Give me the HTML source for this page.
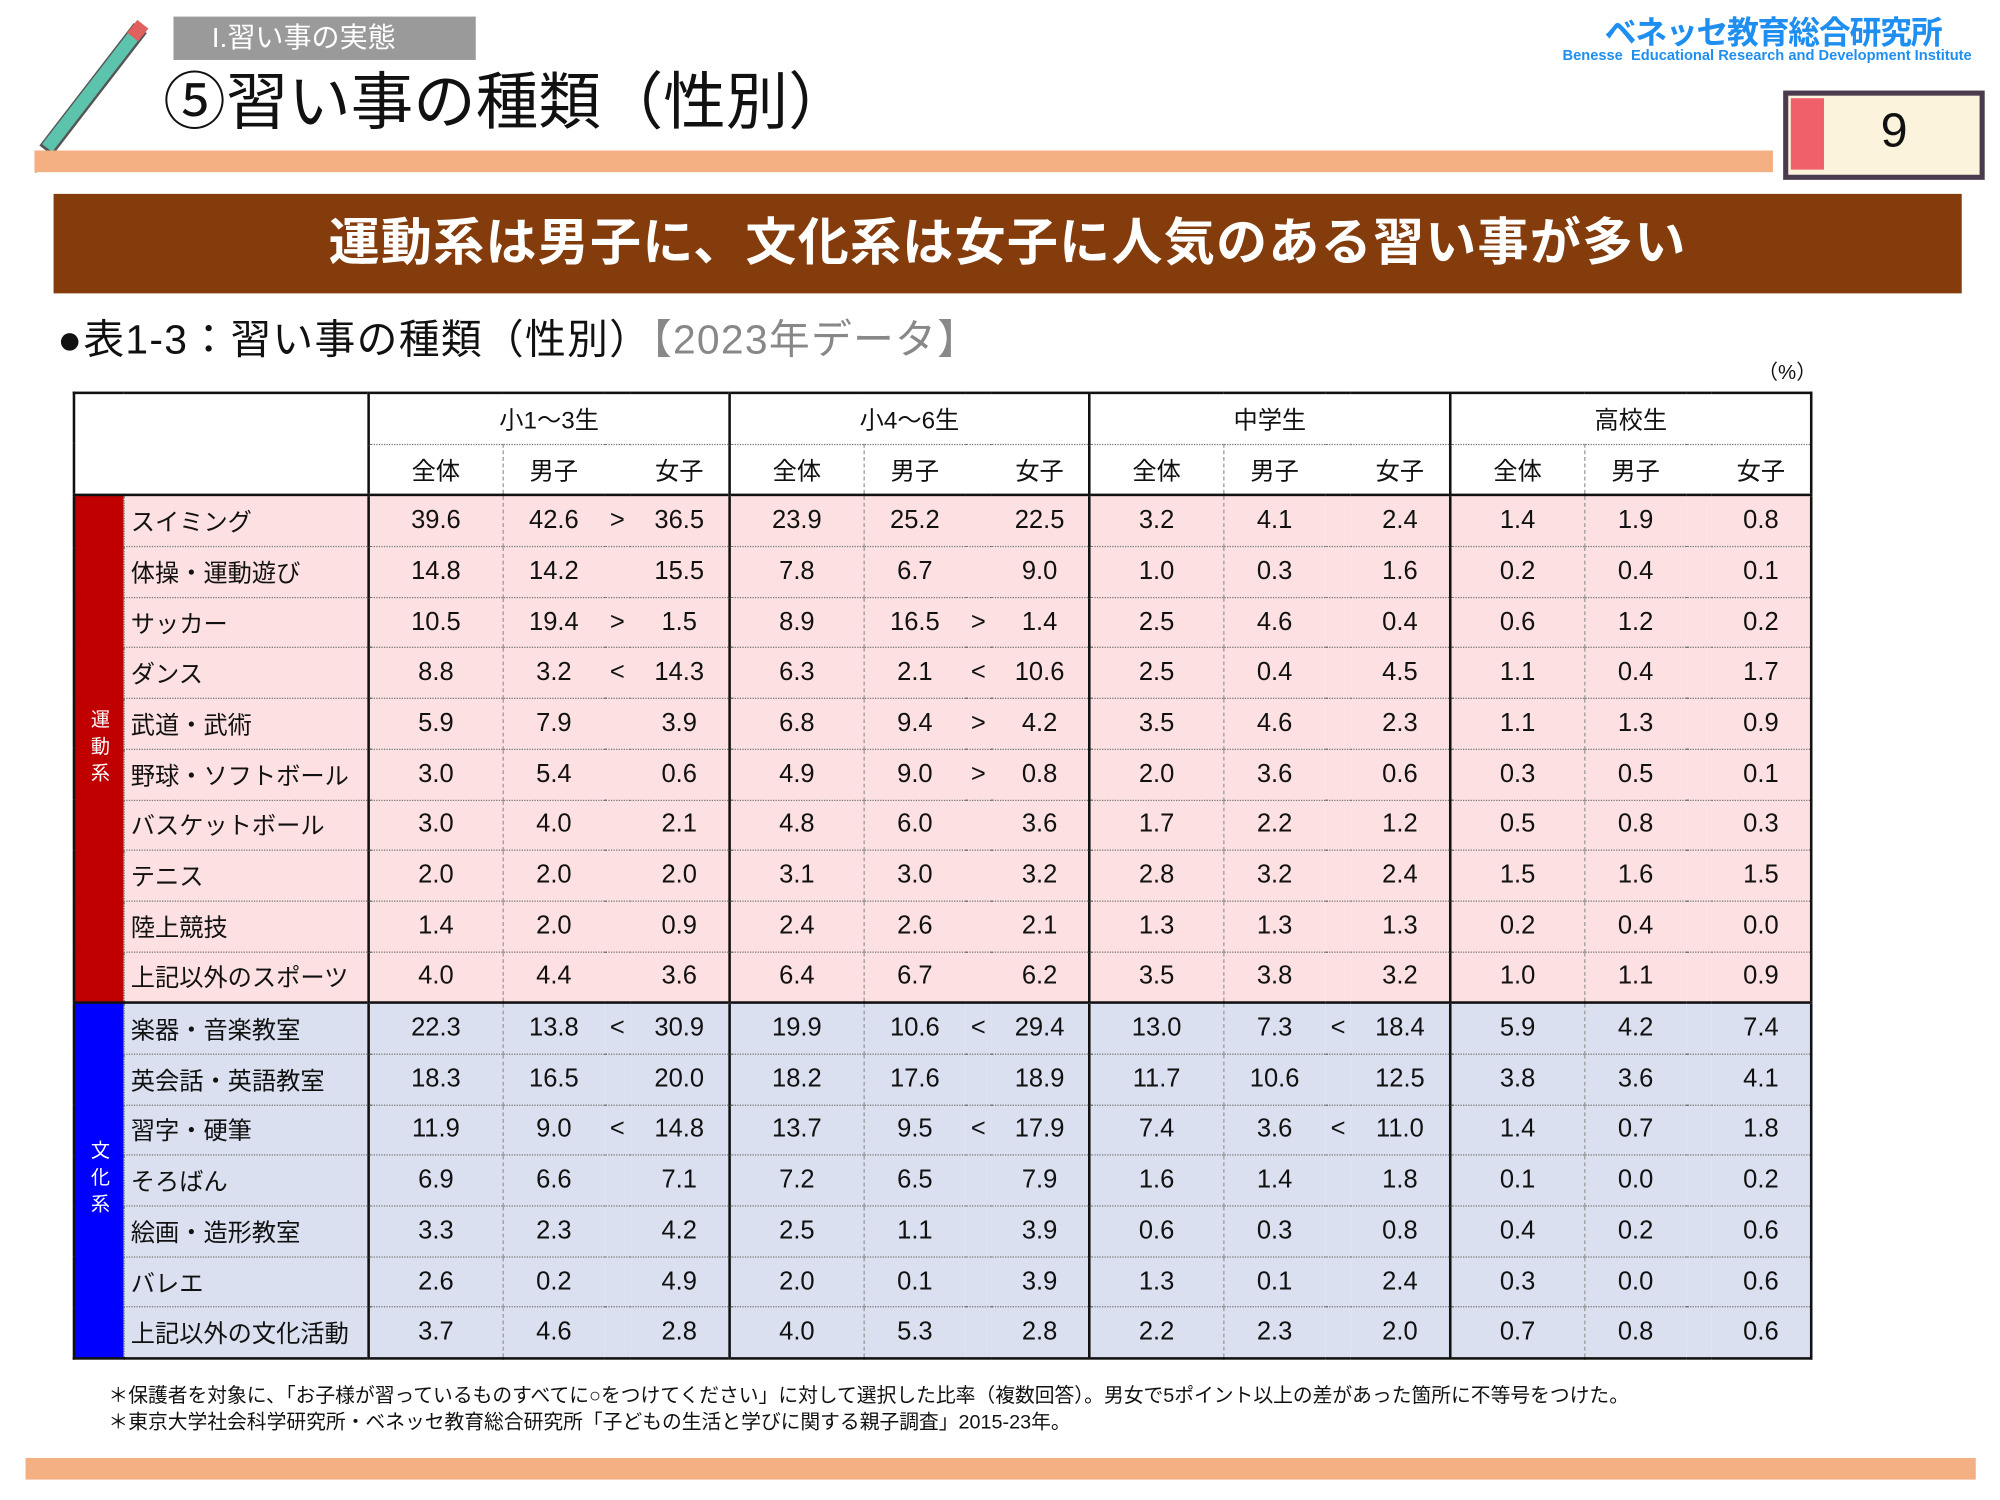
<!DOCTYPE html>
<html><head><meta charset="utf-8">
<style>
html,body{margin:0;padding:0;background:#fff;}
body{width:2000px;height:1500px;overflow:hidden;}
#w{position:absolute;left:0;top:0;width:1568px;height:1176px;transform:scale(1.27551);transform-origin:0 0;font-family:"Liberation Sans","Noto Sans CJK JP",sans-serif;color:#111;}
.a{position:absolute;}
table{position:absolute;left:57px;top:307px;border-collapse:collapse;table-layout:fixed;width:1362px;}
td{height:38.7px;padding:0;text-align:center;font-size:20px;border-bottom:1px dotted #777;white-space:nowrap;}
td.g{border-left:2px solid #111;}
td.m{border-left:1px dashed #999;}
td.l{text-align:left;padding-left:5px;border-left:1px dotted #888;font-size:19px;}
tr.s td{background:#fde0e1;}
tr.c td{background:#dae0ef;}
tr.h td{background:#fff;font-size:19px;}
td.st{color:#fff;font-size:15px;writing-mode:vertical-rl;letter-spacing:6px;border-bottom:none;}
</style></head><body><div id="w">
<svg class="a" style="left:0;top:0" width="140" height="140">
<line x1="36" y1="118" x2="110" y2="22" stroke="#555" stroke-width="13" stroke-linecap="butt"/>
<line x1="37" y1="116" x2="108" y2="24" stroke="#5cc3ad" stroke-width="10"/>
<line x1="104" y1="29" x2="112" y2="19" stroke="#e06060" stroke-width="11"/>
<polygon points="30,120 41,128 29,134" fill="#f3d35a" stroke="#555" stroke-width="2"/>
</svg>
<div class="a" style="left:136px;top:13px;width:237px;height:34px;background:#9a9a9a;color:#fff;font-size:22px;line-height:34px;padding-left:30px;box-sizing:border-box;">I.習い事の実態</div>
<div class="a" style="left:128px;top:50px;font-size:49px;line-height:62px;">⑤習い事の種類（性別）</div>
<div class="a" style="left:27px;top:118px;width:1363px;height:17px;background:#f4b083;"></div>
<div class="a" style="left:1258px;top:6px;font-size:25px;color:#1e8ff0;font-weight:bold;letter-spacing:-1px;">ベネッセ教育総合研究所</div>
<div class="a" style="left:1225px;top:38px;font-size:11.5px;color:#1e8ff0;font-weight:bold;white-space:nowrap;">Benesse&nbsp; Educational Research and Development Institute</div>
<div class="a" style="left:1398px;top:71px;width:150px;height:62px;border:4px solid #4a3c4e;background:#fbf3dc;"></div>
<div class="a" style="left:1404px;top:77px;width:26px;height:56px;background:#f0606a;"></div>
<div class="a" style="left:1460px;top:78px;width:50px;text-align:center;font-size:38px;line-height:50px;">9</div>
<div class="a" style="left:42px;top:152px;width:1496px;height:78px;background:#843c0c;color:#fff;font-size:40px;font-weight:bold;text-align:center;line-height:78px;letter-spacing:1px;">運動系は男子に、文化系は女子に人気のある習い事が多い</div>
<div class="a" style="left:45px;top:245px;font-size:32px;line-height:42px;letter-spacing:1px;">●表1-3：習い事の種類（性別）<span style="color:#888">【2023年データ】</span></div>
<div class="a" style="left:1378px;top:278px;font-size:16px;">（%）</div>
<table style="border:2px solid #111;">
<colgroup><col style="width:39px"><col style="width:192px">
<col style="width:105px"><col style="width:80px"><col style="width:20px"><col style="width:78px">
<col style="width:105px"><col style="width:80px"><col style="width:20px"><col style="width:77px">
<col style="width:105px"><col style="width:80px"><col style="width:20px"><col style="width:78px">
<col style="width:105px"><col style="width:80px"><col style="width:20px"><col style="width:78px"></colgroup>
<tr class="h"><td colspan="2" rowspan="2" style="border-bottom:2px solid #111"></td><td class="g" colspan="4">小1～3生</td><td class="g" colspan="4">小4～6生</td><td class="g" colspan="4">中学生</td><td class="g" colspan="4">高校生</td></tr>
<tr class="h" style="border-bottom:2px solid #111"><td class="g">全体</td><td class="m">男子</td><td></td><td>女子</td><td class="g">全体</td><td class="m">男子</td><td></td><td>女子</td><td class="g">全体</td><td class="m">男子</td><td></td><td>女子</td><td class="g">全体</td><td class="m">男子</td><td></td><td>女子</td></tr>
<tr class="s"><td class="st" rowspan="10" style="background:#c00000">運動系</td><td class="l">スイミング</td><td class="g">39.6</td><td class="m">42.6</td><td>&gt;</td><td>36.5</td><td class="g">23.9</td><td class="m">25.2</td><td></td><td>22.5</td><td class="g">3.2</td><td class="m">4.1</td><td></td><td>2.4</td><td class="g">1.4</td><td class="m">1.9</td><td></td><td>0.8</td></tr>
<tr class="s"><td class="l">体操・運動遊び</td><td class="g">14.8</td><td class="m">14.2</td><td></td><td>15.5</td><td class="g">7.8</td><td class="m">6.7</td><td></td><td>9.0</td><td class="g">1.0</td><td class="m">0.3</td><td></td><td>1.6</td><td class="g">0.2</td><td class="m">0.4</td><td></td><td>0.1</td></tr>
<tr class="s"><td class="l">サッカー</td><td class="g">10.5</td><td class="m">19.4</td><td>&gt;</td><td>1.5</td><td class="g">8.9</td><td class="m">16.5</td><td>&gt;</td><td>1.4</td><td class="g">2.5</td><td class="m">4.6</td><td></td><td>0.4</td><td class="g">0.6</td><td class="m">1.2</td><td></td><td>0.2</td></tr>
<tr class="s"><td class="l">ダンス</td><td class="g">8.8</td><td class="m">3.2</td><td>&lt;</td><td>14.3</td><td class="g">6.3</td><td class="m">2.1</td><td>&lt;</td><td>10.6</td><td class="g">2.5</td><td class="m">0.4</td><td></td><td>4.5</td><td class="g">1.1</td><td class="m">0.4</td><td></td><td>1.7</td></tr>
<tr class="s"><td class="l">武道・武術</td><td class="g">5.9</td><td class="m">7.9</td><td></td><td>3.9</td><td class="g">6.8</td><td class="m">9.4</td><td>&gt;</td><td>4.2</td><td class="g">3.5</td><td class="m">4.6</td><td></td><td>2.3</td><td class="g">1.1</td><td class="m">1.3</td><td></td><td>0.9</td></tr>
<tr class="s"><td class="l">野球・ソフトボール</td><td class="g">3.0</td><td class="m">5.4</td><td></td><td>0.6</td><td class="g">4.9</td><td class="m">9.0</td><td>&gt;</td><td>0.8</td><td class="g">2.0</td><td class="m">3.6</td><td></td><td>0.6</td><td class="g">0.3</td><td class="m">0.5</td><td></td><td>0.1</td></tr>
<tr class="s"><td class="l">バスケットボール</td><td class="g">3.0</td><td class="m">4.0</td><td></td><td>2.1</td><td class="g">4.8</td><td class="m">6.0</td><td></td><td>3.6</td><td class="g">1.7</td><td class="m">2.2</td><td></td><td>1.2</td><td class="g">0.5</td><td class="m">0.8</td><td></td><td>0.3</td></tr>
<tr class="s"><td class="l">テニス</td><td class="g">2.0</td><td class="m">2.0</td><td></td><td>2.0</td><td class="g">3.1</td><td class="m">3.0</td><td></td><td>3.2</td><td class="g">2.8</td><td class="m">3.2</td><td></td><td>2.4</td><td class="g">1.5</td><td class="m">1.6</td><td></td><td>1.5</td></tr>
<tr class="s"><td class="l">陸上競技</td><td class="g">1.4</td><td class="m">2.0</td><td></td><td>0.9</td><td class="g">2.4</td><td class="m">2.6</td><td></td><td>2.1</td><td class="g">1.3</td><td class="m">1.3</td><td></td><td>1.3</td><td class="g">0.2</td><td class="m">0.4</td><td></td><td>0.0</td></tr>
<tr class="s" style="border-bottom:2px solid #111"><td class="l">上記以外のスポーツ</td><td class="g">4.0</td><td class="m">4.4</td><td></td><td>3.6</td><td class="g">6.4</td><td class="m">6.7</td><td></td><td>6.2</td><td class="g">3.5</td><td class="m">3.8</td><td></td><td>3.2</td><td class="g">1.0</td><td class="m">1.1</td><td></td><td>0.9</td></tr>
<tr class="c"><td class="st" rowspan="7" style="background:#0000ff">文化系</td><td class="l">楽器・音楽教室</td><td class="g">22.3</td><td class="m">13.8</td><td>&lt;</td><td>30.9</td><td class="g">19.9</td><td class="m">10.6</td><td>&lt;</td><td>29.4</td><td class="g">13.0</td><td class="m">7.3</td><td>&lt;</td><td>18.4</td><td class="g">5.9</td><td class="m">4.2</td><td></td><td>7.4</td></tr>
<tr class="c"><td class="l">英会話・英語教室</td><td class="g">18.3</td><td class="m">16.5</td><td></td><td>20.0</td><td class="g">18.2</td><td class="m">17.6</td><td></td><td>18.9</td><td class="g">11.7</td><td class="m">10.6</td><td></td><td>12.5</td><td class="g">3.8</td><td class="m">3.6</td><td></td><td>4.1</td></tr>
<tr class="c"><td class="l">習字・硬筆</td><td class="g">11.9</td><td class="m">9.0</td><td>&lt;</td><td>14.8</td><td class="g">13.7</td><td class="m">9.5</td><td>&lt;</td><td>17.9</td><td class="g">7.4</td><td class="m">3.6</td><td>&lt;</td><td>11.0</td><td class="g">1.4</td><td class="m">0.7</td><td></td><td>1.8</td></tr>
<tr class="c"><td class="l">そろばん</td><td class="g">6.9</td><td class="m">6.6</td><td></td><td>7.1</td><td class="g">7.2</td><td class="m">6.5</td><td></td><td>7.9</td><td class="g">1.6</td><td class="m">1.4</td><td></td><td>1.8</td><td class="g">0.1</td><td class="m">0.0</td><td></td><td>0.2</td></tr>
<tr class="c"><td class="l">絵画・造形教室</td><td class="g">3.3</td><td class="m">2.3</td><td></td><td>4.2</td><td class="g">2.5</td><td class="m">1.1</td><td></td><td>3.9</td><td class="g">0.6</td><td class="m">0.3</td><td></td><td>0.8</td><td class="g">0.4</td><td class="m">0.2</td><td></td><td>0.6</td></tr>
<tr class="c"><td class="l">バレエ</td><td class="g">2.6</td><td class="m">0.2</td><td></td><td>4.9</td><td class="g">2.0</td><td class="m">0.1</td><td></td><td>3.9</td><td class="g">1.3</td><td class="m">0.1</td><td></td><td>2.4</td><td class="g">0.3</td><td class="m">0.0</td><td></td><td>0.6</td></tr>
<tr class="c"><td class="l">上記以外の文化活動</td><td class="g">3.7</td><td class="m">4.6</td><td></td><td>2.8</td><td class="g">4.0</td><td class="m">5.3</td><td></td><td>2.8</td><td class="g">2.2</td><td class="m">2.3</td><td></td><td>2.0</td><td class="g">0.7</td><td class="m">0.8</td><td></td><td>0.6</td></tr>
</table>
<div class="a" style="left:85px;top:1084px;font-size:15.5px;line-height:21px;white-space:nowrap;">＊保護者を対象に、「お子様が習っているものすべてに○をつけてください」に対して選択した比率（複数回答）。男女で5ポイント以上の差があった箇所に不等号をつけた。<br>＊東京大学社会科学研究所・ベネッセ教育総合研究所「子どもの生活と学びに関する親子調査」2015-23年。</div>
<div class="a" style="left:20px;top:1143px;width:1529px;height:17px;background:#f4b083;"></div>
</div></body></html>
